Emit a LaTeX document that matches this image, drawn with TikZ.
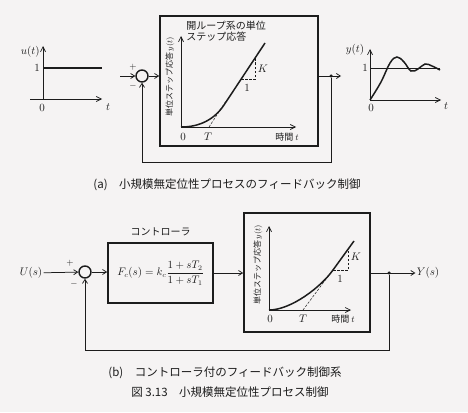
\documentclass[tikz,border=0pt]{standalone}
\usepackage{fontspec}
\newfontfamily\jp{Noto Sans CJK JP}
\usetikzlibrary{positioning,arrows.meta,calc}
\definecolor{papercolor}{RGB}{245,243,243}
\definecolor{inkcolor}{RGB}{28,28,28}

\begin{document}
\begin{tikzpicture}[
    x=1pt, y=-1pt,
    color=inkcolor, line width=0.75pt,
    block/.style={rectangle, draw, line width=1.6pt, inner sep=0pt},
    sumpt/.style={circle, draw, line width=1.4pt, minimum size=12pt, inner sep=0pt},
    branch/.style={circle, fill=inkcolor, inner sep=0pt, minimum size=3.5pt},
    arrow/.style={-{Straight Barb[length=4pt,width=5pt]}},
    axisline/.style={-{Straight Barb[length=5pt,width=5pt]}},
    resp/.style={line width=1.5pt},
    guide/.style={line width=0.5pt, dash pattern=on 2.5pt off 1.5pt},
    lbl/.style={font=\fontsize{11}{13}\selectfont, inner sep=1pt},
    sgn/.style={font=\small, inner sep=0pt},
    boxtitle/.style={font=\jp\fontsize{10}{11}\selectfont, align=left, inner sep=0pt},
    vlabel/.style={font=\jp\footnotesize, rotate=90, inner sep=0pt},
    tlabel/.style={font=\jp\small, inner sep=0pt},
    caption/.style={font=\jp\fontsize{11.5}{13}\selectfont, inner sep=0pt}
]

\fill[papercolor] (0,0) rectangle (468,412);
\useasboundingbox (0,0) rectangle (468,412);

% ===== (a) INPUT STEP u(t) =====
\coordinate (u_org) at (43,99);
\draw[axisline] (30,99) -- (102,99);
\draw[axisline] (u_org) -- (43,46);
\draw[resp] (43,68) -- (102,68);
\node[lbl, anchor=east] (u_lbl) at (41,52) {$u(t)$};
\node[lbl] at (37,68) {$1$};
\node[lbl] at (42,108) {$0$};
\node[lbl] at (108,107) {$t$};

% ===== (a) LOOP =====
\coordinate (in_a) at (120,76);
\node[sumpt] (sum_a) at (142,76) {};
\node[sgn] at (133,67) {$+$};
\node[sgn] at (133,86) {$-$};
\node[block, minimum width=158pt, minimum height=130pt] (plant_a) at (239,81) {};
\node[branch] (split_a) at (331,76) {};
\coordinate (out_a) at (341,76);
\coordinate (fb_a) at (142,162);

% open-loop step response inside the box
\draw[axisline] (181,127) -- (296,127);
\draw[axisline] (181,127) -- (181,36);
\draw[guide] (209,127) -- (226,101);
\draw[guide] (241,79) -- (255,79) -- (255,58);
\draw[resp] (181,127) .. controls (199,127) and (214,120) .. (224,105) -- (265,43);
\node[lbl] at (183,137) {$0$};
\node[lbl] at (208,137) {$T$};
\node[tlabel] at (287,137) {時間 $t$};
\node[lbl] at (263,69) {$K$};
\node[lbl] at (247,88) {$1$};
\node[boxtitle, anchor=north west] at (186,21) {開ループ系の単位\\ステップ応答};
\node[vlabel] at (170,77) {単位ステップ応答 $y(t)$};

\draw[arrow] (in_a) -- (sum_a);
\draw[arrow] (sum_a) -- (sum_a -| plant_a.west);
\draw[arrow] (plant_a.east |- split_a) -- (out_a);
\draw[arrow] (split_a) -- (split_a |- fb_a) -| (sum_a.south);

% ===== (a) OUTPUT y(t) =====
\draw[axisline] (370,100) -- (441,100);
\draw[axisline] (370,100) -- (370,49);
\draw (370,68) -- (440,68);
\draw[resp] plot[smooth, tension=0.65] coordinates {(370,100) (381,82) (390,63) (397,57) (404,62) (411,71) (418,69) (425,64) (432,66) (440,70)};
\node[lbl] at (355,50) {$y(t)$};
\node[lbl] at (365,68) {$1$};
\node[lbl] at (371,108) {$0$};
\node[lbl] at (446,106) {$t$};

\node[caption] (cap_a) at (227,185) {(a)\quad 小規模無定位性プロセスのフィードバック制御};

% ===== (b) LOOP WITH CONTROLLER =====
\node[lbl] (u_s) at (31,273) {$U(s)$};
\node[sumpt] (sum_b) at (85,272) {};
\node[sgn] at (70,263) {$+$};
\node[sgn] at (74,284) {$-$};
\node[block, minimum width=105pt, minimum height=60pt, font=\fontsize{10.5}{12}\selectfont] (ctrl) at (160.5,273) {$F_c(s)=k_c\displaystyle\frac{1+sT_2}{1+sT_1}$};
\node[font=\jp\normalsize, above=3pt of ctrl] (ctrl_lbl) {コントローラ};
\node[block, minimum width=126pt, minimum height=119pt] (plant_b) at (307,272.5) {};
\node[branch] (split_b) at (389,273) {};
\node[lbl] (y_s) at (428,273) {$Y(s)$};
\coordinate (fb_b) at (85,350);

% step response inside the plant box
\draw[axisline] (269,310) -- (351,310);
\draw[axisline] (269,310) -- (269,226);
\draw[guide] (303,310) -- (335,267);
\draw[guide] (333,270) -- (348,270) -- (348,250);
\draw[resp] (269,310) .. controls (291,310) and (321,287) .. (333,270) -- (354,241);
\node[lbl] at (270,319) {$0$};
\node[lbl] at (303,319) {$T$};
\node[tlabel] at (343,319) {時間 $t$};
\node[lbl] at (356,257) {$K$};
\node[lbl] at (340,279) {$1$};
\node[vlabel] at (258,265) {単位ステップ応答 $y(t)$};

\draw[arrow] (u_s) -- (sum_b);
\draw[arrow] (sum_b) -- (sum_b -| ctrl.west);
\draw[arrow] (ctrl.east) -- (ctrl.east -| plant_b.west);
\draw[arrow] (plant_b.east |- split_b) -- (y_s);
\draw[arrow] (split_b) -- (split_b |- fb_b) -| (sum_b.south);

% ===== CAPTIONS =====
\node[caption] (cap_b) at (225,373) {(b)\quad コントローラ付のフィードバック制御系};
\node[caption] (cap_fig) at (230,392) {図 3.13\quad 小規模無定位性プロセス制御};

\end{tikzpicture}
\end{document}
